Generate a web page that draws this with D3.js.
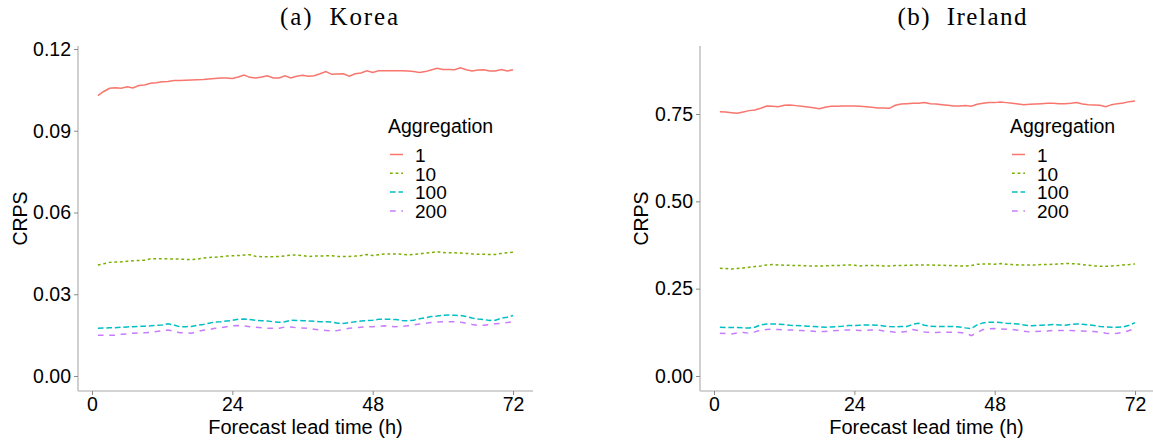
<!DOCTYPE html>
<html>
<head>
<meta charset="utf-8">
<script src="https://cdn.jsdelivr.net/npm/d3@7"></script>
<style>
  html, body { margin: 0; padding: 0; background: #ffffff; }
  svg { display: block; }
</style>
</head>
<body>
<svg id="chart" width="1153" height="446"></svg>
<script>
// ---------------- data ----------------
const leadTimes = d3.range(1, 73);            // 1..72 h
const seriesNames = ["1", "10", "100", "200"];
const xTicks = [0, 24, 48, 72];

const koreaYTicks = [0.00, 0.03, 0.06, 0.09, 0.12];
const irelandYTicks = [0.00, 0.25, 0.50, 0.75];

const korea1 = [0.1029,0.1044,0.1056,0.1058,0.1056,0.1061,0.1057,0.1066,0.1068,0.1074,0.1076,0.1080,0.1081,0.1084,0.1084,0.1085,0.1086,0.1087,0.1088,0.1090,0.1092,0.1094,0.1094,0.1092,0.1097,0.1104,0.1096,0.1094,0.1097,0.1102,0.1094,0.1094,0.1102,0.1094,0.1100,0.1104,0.1100,0.1102,0.1109,0.1117,0.1107,0.1108,0.1109,0.1100,0.1109,0.1112,0.1120,0.1114,0.1120,0.1120,0.1120,0.1120,0.1120,0.1119,0.1117,0.1114,0.1117,0.1123,0.1129,0.1125,0.1125,0.1124,0.1131,0.1124,0.1119,0.1123,0.1124,0.1119,0.1119,0.1125,0.1119,0.1124];
const korea10 = [0.0407,0.0412,0.0417,0.0418,0.0419,0.0421,0.0423,0.0424,0.0425,0.0430,0.0430,0.0430,0.0430,0.0429,0.0429,0.0428,0.0427,0.0429,0.0433,0.0435,0.0436,0.0438,0.0440,0.0441,0.0442,0.0444,0.0445,0.0439,0.0438,0.0438,0.0438,0.0439,0.0441,0.0444,0.0444,0.0442,0.0438,0.0440,0.0440,0.0441,0.0441,0.0439,0.0439,0.0439,0.0440,0.0442,0.0446,0.0442,0.0445,0.0448,0.0448,0.0448,0.0447,0.0445,0.0446,0.0448,0.0451,0.0453,0.0456,0.0453,0.0452,0.0452,0.0451,0.0450,0.0448,0.0447,0.0447,0.0446,0.0446,0.0450,0.0452,0.0454];
const korea100 = [0.0175,0.0176,0.0177,0.0177,0.0179,0.0180,0.0181,0.0182,0.0183,0.0184,0.0186,0.0187,0.0192,0.0187,0.0181,0.0181,0.0182,0.0186,0.0189,0.0194,0.0198,0.0199,0.0202,0.0204,0.0208,0.0209,0.0207,0.0204,0.0203,0.0202,0.0199,0.0197,0.0199,0.0205,0.0204,0.0203,0.0202,0.0201,0.0199,0.0199,0.0198,0.0194,0.0193,0.0196,0.0199,0.0202,0.0203,0.0205,0.0208,0.0208,0.0208,0.0207,0.0204,0.0203,0.0205,0.0210,0.0214,0.0218,0.0220,0.0223,0.0224,0.0223,0.0222,0.0218,0.0213,0.0209,0.0207,0.0204,0.0205,0.0212,0.0216,0.0222];
const korea200 = [0.0150,0.0150,0.0150,0.0150,0.0153,0.0154,0.0157,0.0158,0.0159,0.0160,0.0163,0.0166,0.0169,0.0164,0.0159,0.0158,0.0157,0.0163,0.0168,0.0170,0.0175,0.0177,0.0181,0.0184,0.0185,0.0184,0.0181,0.0179,0.0177,0.0175,0.0175,0.0175,0.0180,0.0180,0.0177,0.0176,0.0175,0.0172,0.0169,0.0167,0.0165,0.0167,0.0171,0.0175,0.0177,0.0179,0.0180,0.0181,0.0182,0.0184,0.0182,0.0181,0.0182,0.0184,0.0187,0.0191,0.0193,0.0196,0.0198,0.0199,0.0199,0.0199,0.0197,0.0194,0.0189,0.0186,0.0186,0.0189,0.0192,0.0193,0.0196,0.0199];

const ireland1 = [0.7568,0.7558,0.7539,0.7520,0.7558,0.7597,0.7616,0.7663,0.7730,0.7721,0.7711,0.7749,0.7759,0.7740,0.7721,0.7701,0.7682,0.7654,0.7692,0.7721,0.7721,0.7730,0.7730,0.7730,0.7721,0.7711,0.7692,0.7673,0.7673,0.7663,0.7749,0.7787,0.7797,0.7806,0.7806,0.7826,0.7797,0.7787,0.7768,0.7749,0.7730,0.7730,0.7740,0.7721,0.7778,0.7806,0.7826,0.7826,0.7845,0.7826,0.7806,0.7787,0.7768,0.7778,0.7787,0.7797,0.7806,0.7806,0.7797,0.7797,0.7806,0.7826,0.7787,0.7768,0.7759,0.7749,0.7711,0.7768,0.7797,0.7816,0.7854,0.7873];
const ireland10 = [0.3084,0.3075,0.3065,0.3075,0.3094,0.3113,0.3132,0.3151,0.3180,0.3189,0.3180,0.3170,0.3170,0.3160,0.3160,0.3151,0.3151,0.3151,0.3151,0.3160,0.3160,0.3170,0.3180,0.3170,0.3151,0.3160,0.3160,0.3160,0.3151,0.3151,0.3160,0.3160,0.3170,0.3170,0.3180,0.3180,0.3180,0.3170,0.3170,0.3160,0.3160,0.3151,0.3151,0.3160,0.3198,0.3208,0.3208,0.3198,0.3218,0.3198,0.3189,0.3180,0.3180,0.3180,0.3180,0.3189,0.3189,0.3198,0.3208,0.3218,0.3218,0.3208,0.3189,0.3170,0.3151,0.3141,0.3141,0.3151,0.3160,0.3180,0.3189,0.3208];
const ireland100 = [0.1396,0.1386,0.1386,0.1386,0.1377,0.1377,0.1396,0.1462,0.1491,0.1491,0.1481,0.1472,0.1453,0.1443,0.1434,0.1424,0.1415,0.1405,0.1396,0.1405,0.1415,0.1424,0.1443,0.1443,0.1453,0.1462,0.1462,0.1453,0.1434,0.1415,0.1405,0.1415,0.1415,0.1481,0.1510,0.1453,0.1424,0.1415,0.1415,0.1415,0.1415,0.1405,0.1377,0.1357,0.1462,0.1520,0.1539,0.1539,0.1529,0.1510,0.1501,0.1491,0.1462,0.1434,0.1443,0.1453,0.1462,0.1472,0.1462,0.1453,0.1472,0.1491,0.1481,0.1462,0.1443,0.1415,0.1405,0.1396,0.1396,0.1405,0.1453,0.1529];
const ireland200 = [0.1224,0.1214,0.1205,0.1233,0.1243,0.1224,0.1262,0.1319,0.1329,0.1338,0.1329,0.1319,0.1319,0.1310,0.1300,0.1291,0.1281,0.1272,0.1272,0.1291,0.1300,0.1310,0.1319,0.1310,0.1300,0.1310,0.1319,0.1319,0.1291,0.1272,0.1253,0.1262,0.1272,0.1329,0.1300,0.1262,0.1253,0.1243,0.1253,0.1253,0.1253,0.1243,0.1224,0.1157,0.1243,0.1329,0.1348,0.1357,0.1348,0.1338,0.1329,0.1310,0.1281,0.1262,0.1272,0.1281,0.1291,0.1300,0.1300,0.1300,0.1300,0.1291,0.1291,0.1281,0.1272,0.1253,0.1224,0.1214,0.1224,0.1253,0.1300,0.1357];

// ---------------- styling ----------------
const colors = ["#F8766D", "#7CAE00", "#00BFC4", "#C77CFF"];
const dashes = [null, "2.8,2.8", "5.7,2.8", "5.7,5.7"];
const SANS = "Arial, 'Liberation Sans', sans-serif";
const SERIF = "'Times New Roman', 'Liberation Serif', serif";

const svg = d3.select("#chart");

const panels = [
  { title: "(a)  Korea", titleX: 339, titleLen: 118,
    series: [korea1, korea10, korea100, korea200], yTicks: koreaYTicks,
    yDomain: [-0.0055, 0.1211], x0: 77.1, x1: 533.8, axisX: 78, axisEnd: 533,
    crpsX: 20, legendX: 388 },
  { title: "(b)  Ireland", titleX: 962, titleLen: 129,
    series: [ireland1, ireland10, ireland100, ireland200], yTicks: irelandYTicks,
    yDomain: [-0.043, 0.9447], x0: 699.1, x1: 1155.8, axisX: 700, axisEnd: 1153,
    crpsX: 641, legendX: 1010 }
];

const yTop = 46, yBottom = 391;

panels.forEach(p => {
  const x = d3.scaleLinear().domain([-2.55, 75.55]).range([p.x0, p.x1]);
  const y = d3.scaleLinear().domain(p.yDomain).range([yBottom, yTop]);
  const g = svg.append("g");

  // title
  g.append("text")
    .attr("x", p.titleX).attr("y", 25)
    .attr("text-anchor", "middle")
    .attr("textLength", p.titleLen)
    .attr("lengthAdjust", "spacing")
    .style("font-family", SERIF).style("font-size", "25px").attr("fill", "#000")
    .attr("xml:space", "preserve")
    .text(p.title);

  // axis lines
  g.append("line").attr("x1", p.axisX).attr("x2", p.axisX).attr("y1", yTop).attr("y2", yBottom)
    .attr("stroke", "#c4c4c4").attr("stroke-width", 1.6);
  g.append("line").attr("x1", p.axisX).attr("x2", p.axisEnd).attr("y1", yBottom).attr("y2", yBottom)
    .attr("stroke", "#c4c4c4").attr("stroke-width", 1.6);

  // y axis
  const ya = g.append("g").attr("transform", `translate(${p.axisX},0)`)
    .call(d3.axisLeft(y).tickValues(p.yTicks).tickFormat(d3.format(".2f")).tickSize(4).tickPadding(3));
  ya.select(".domain").remove();
  ya.selectAll(".tick line").attr("stroke", "#8a8a8a").attr("stroke-width", 1);
  ya.selectAll(".tick text").style("font-family", SANS).style("font-size", "19.5px").attr("fill", "#000");

  // x axis
  const xa = g.append("g").attr("transform", `translate(0,${yBottom})`)
    .call(d3.axisBottom(x).tickValues(xTicks).tickSize(4).tickPadding(2));
  xa.select(".domain").remove();
  xa.selectAll(".tick line").attr("stroke", "#8a8a8a").attr("stroke-width", 1);
  xa.selectAll(".tick text").style("font-family", SANS).style("font-size", "19.5px").attr("fill", "#000");

  // axis titles
  g.append("text")
    .attr("transform", `translate(${p.crpsX + 7},${(yTop + yBottom) / 2}) rotate(-90)`)
    .attr("text-anchor", "middle")
    .style("font-family", SANS).style("font-size", "19.5px").attr("fill", "#000")
    .text("CRPS");
  g.append("text")
    .attr("x", (p.axisX + p.axisEnd) / 2).attr("y", 434)
    .attr("text-anchor", "middle")
    .style("font-family", SANS).style("font-size", "20px").attr("fill", "#000")
    .text("Forecast lead time (h)");

  // lines
  const line = d3.line().x((d, i) => x(leadTimes[i])).y(d => y(d));
  p.series.forEach((s, k) => {
    g.append("path").datum(s)
      .attr("d", line)
      .attr("fill", "none")
      .attr("stroke", colors[k])
      .attr("stroke-width", 1.5)
      .attr("stroke-dasharray", dashes[k]);
  });

  // legend
  const lg = g.append("g").attr("transform", `translate(${p.legendX},0)`);
  lg.append("text").attr("x", 0).attr("y", 133)
    .style("font-family", SANS).style("font-size", "19.5px").attr("fill", "#000")
    .text("Aggregation");
  seriesNames.forEach((name, k) => {
    const cy = 154.5 + k * 18.8;
    lg.append("line").attr("x1", 2).attr("x2", 15).attr("y1", cy).attr("y2", cy)
      .attr("stroke", colors[k]).attr("stroke-width", 1.5)
      .attr("stroke-dasharray", dashes[k]);
    lg.append("text").attr("x", 27).attr("y", cy + 7.2)
      .style("font-family", SANS).style("font-size", "19px").attr("fill", "#000")
      .text(name);
  });
});
</script>
</body>
</html>
